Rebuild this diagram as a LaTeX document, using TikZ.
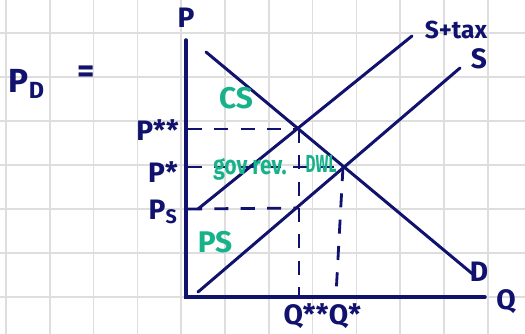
\documentclass[tikz,border=0pt]{standalone}
\usepackage{fontspec}
\setmainfont{Fira Sans}
\usetikzlibrary{calc}
\definecolor{ink}{RGB}{16,18,110}
\definecolor{mint}{RGB}{24,178,138}
\definecolor{paper}{RGB}{222,222,222}
\tikzstyle{gridline}=[paper, line width=1pt]
\tikzstyle{curve}=[ink, line width=1.7pt, line cap=round]
\tikzstyle{guide}=[ink, line width=1.6pt, dash pattern=on 8pt off 7pt]
\tikzstyle{lbl}=[ink, inner sep=0, font=\fontsize{16}{16}\selectfont\bfseries]
\tikzstyle{area}=[mint, inner sep=0, font=\fontsize{17}{17}\selectfont\bfseries]

\begin{document}
\begin{tikzpicture}[x=0.02cm, y=-0.02cm]
\useasboundingbox (0,0) rectangle (525,334);
% squared paper
\foreach \x in {0,...,11} {\draw[gridline] (6+43.8*\x,0) -- (6+43.8*\x,334);}
\foreach \y in {0,...,6} {\draw[gridline] (0,33+44*\y) -- (525,33+44*\y);}
% axes
\coordinate (o) at (186,297);
\coordinate (ptop) at (186,40);
\coordinate (qend) at (485,297);
\draw[curve, line width=2pt] (ptop)--(o)--(qend);
% demand, supply, supply+tax
\coordinate (d0) at (206,52);
\coordinate (d1) at (475,276);
\coordinate (s0) at (198,292);
\coordinate (s1) at (460,68);
\coordinate (t0) at (198,209);
\coordinate (t1) at (412,36);
\draw[curve] (d0)--(d1);
\draw[curve] (s0)--(s1);
\draw[curve] (t0)--(t1);
% equilibria
\coordinate (e1) at (299,129);
\coordinate (e0) at (343,167);
\coordinate (es) at (299,208);
\coordinate (a1) at (188,129);
\coordinate (a0) at (188,167);
\coordinate (as) at (188,209);
\coordinate (b1) at (299,295);
\coordinate (b0) at (336,295);
\draw[guide] (a1)--(e1);
\draw[guide] (a0)--(e0);
\draw[guide] (as)--(es);
\draw[guide] (e1)--(b1);
\draw[guide] (e0)--(b0);
% labels
\node[lbl] (p) at (186,18) {P};
\node[lbl] (q) at (506,302) {Q};
\node[lbl] (pdd) at (479,272) {D};
\node[lbl] (ls) at (479,59) {S};
\node[lbl, font=\fontsize{14}{14}\selectfont\bfseries] (lt) at (456,30) {S+tax};
\node[lbl, anchor=east] (pss) at (179,130) {P**};
\node[lbl, anchor=east] (pst) at (178,172) {P*};
\node[lbl, anchor=east] (psup) at (178,212) {P\textsubscript{S}};
\node[lbl] (qss) at (306,316) {Q**};
\node[lbl] (qst) at (345,316) {Q*};
\node[lbl, font=\fontsize{19}{19}\selectfont\bfseries] (pd) at (27,84) {P\textsubscript{D}};
\node[lbl, font=\fontsize{19}{19}\selectfont\bfseries] (eq) at (86,74) {=};
\node[area] (cs) at (236,98) {CS};
\node[area, font=\fontsize{15}{15}\selectfont\bfseries, xscale=0.8] (gov) at (250,169) {gov rev.};
\node[area, font=\fontsize{14}{14}\selectfont\bfseries, xscale=0.62] (dwl) at (321,164) {DWL};
\node[area] (ps) at (215,242) {PS};
\end{tikzpicture}
\end{document}
